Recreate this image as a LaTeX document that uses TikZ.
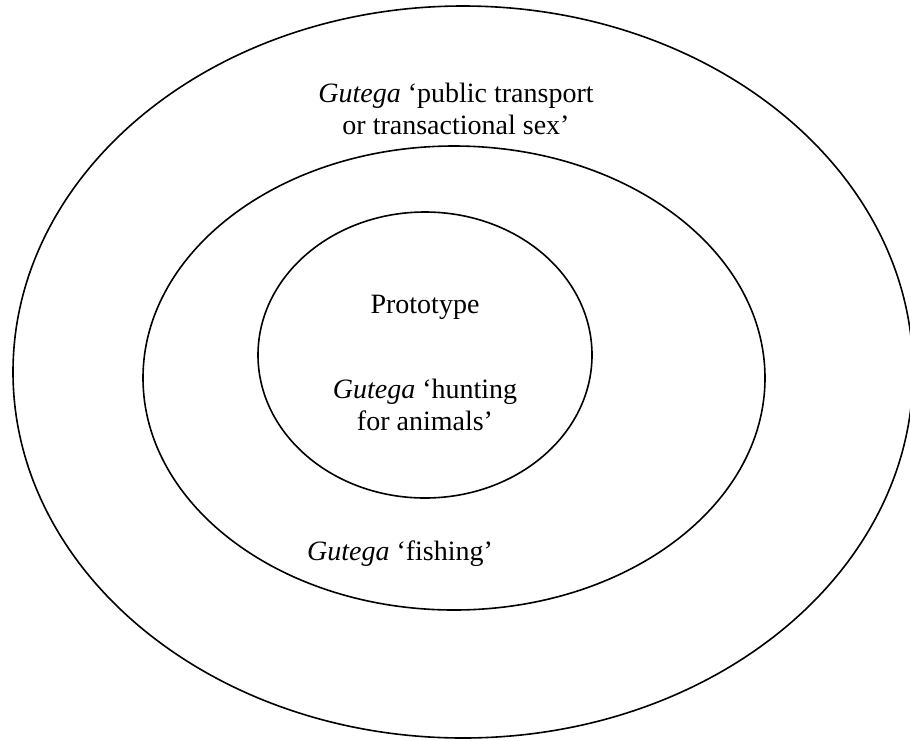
\documentclass[tikz,border=0pt]{standalone}
\usepackage{fontspec}
\setmainfont{Liberation Serif}
\begin{document}
\begin{tikzpicture}[x=1pt,y=-1pt,
  ring/.style={draw=black,line width=1.6pt},
  lbl/.style={font=\fontsize{28}{32}\selectfont,align=center,inner sep=0pt}]
\useasboundingbox (0,0) rectangle (910,740);
\draw[ring] (463,372) ellipse [x radius=450,y radius=366];
\draw[ring] (454,378) ellipse [x radius=311,y radius=232];
\draw[ring] (425,355) ellipse [x radius=167,y radius=143];
\node[lbl] (outer) at (456,109) {\textit{Gutega} ‘public transport\\or transactional sex’};
\node[lbl] (proto) at (425,307) {Prototype};
\node[lbl] (hunt) at (425,405) {\textit{Gutega} ‘hunting\\for animals’};
\node[lbl] (fish) at (400,554) {\textit{Gutega} ‘fishing’};
\end{tikzpicture}
\end{document}
